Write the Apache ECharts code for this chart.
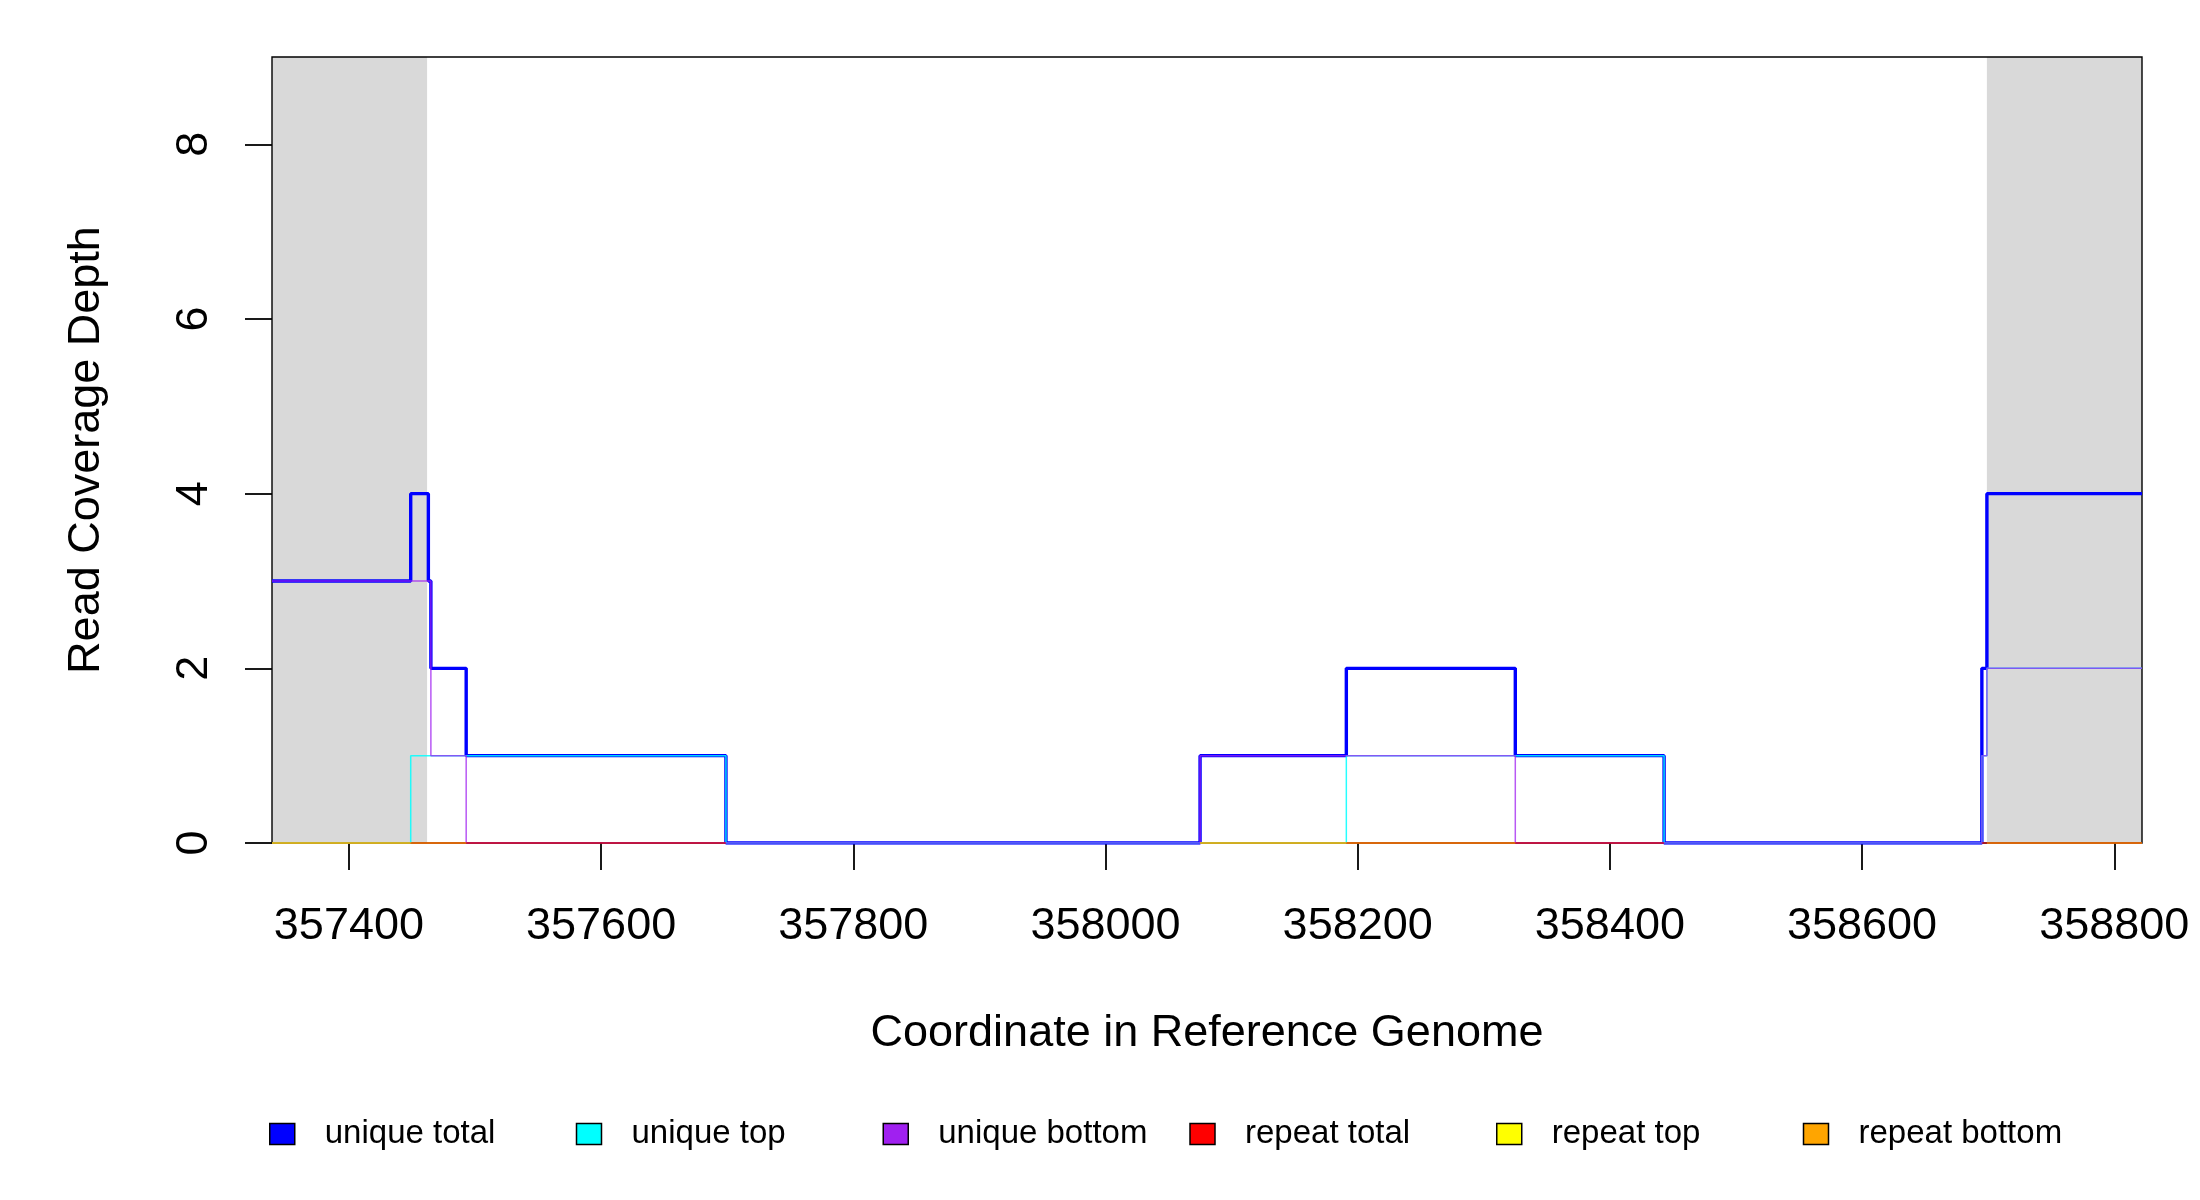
<!DOCTYPE html>
<html>
<head>
    <meta charset="utf-8">
    <title>Read Coverage Depth</title>
    <script src="https://cdn.jsdelivr.net/npm/echarts@6/dist/echarts.min.js"></script>
    <style>
        html, body { margin: 0; padding: 0; background: #ffffff; }
        #chart { width: 2200px; height: 1200px; }
    </style>
</head>
<body>
<div id="chart"></div>
<script>
    // axis range and tick labels
    var xMin = 357339, xMax = 358822;
    var xTicks = [357400, 357600, 357800, 358000, 358200, 358400, 358600, 358800];
    var yTicks = [0, 2, 4, 6, 8];

    // grey shaded flanks [from, to]
    var shadeSpans = [[357339, 357462], [358699, 358822]];

    // step data: [start coordinate, depth from there on]
    var uniqueTotal = [[357339, 3], [357449, 4], [357463, 3], [357465, 2], [357493, 1], [357699, 0],
        [358075, 1], [358191, 2], [358325, 1], [358443, 0], [358695, 2], [358699, 4], [358822, 4]];
    var uniqueTop = [[357339, 0], [357449, 1], [357699, 0], [358191, 1], [358443, 0],
        [358695, 1], [358699, 2], [358822, 2]];
    var uniqueBottom = [[357339, 3], [357465, 1], [357493, 0], [358075, 1], [358325, 0],
        [358695, 1], [358699, 2], [358822, 2]];

    // repeat coverage is zero everywhere; spans where each line is drawn
    var repeatTotalSpans = [[357339, 357699], [358075, 358443], [358695, 358822]];
    var repeatTopSpans = [[357339, 357449], [358075, 358191]];
    var repeatBottomSpans = [[357449, 357493], [358191, 358325], [358699, 358822]];

    var names = ['unique total', 'unique top', 'unique bottom', 'repeat total', 'repeat top', 'repeat bottom'];
    var colors = ['#0000FF', '#00FFFF', '#A020F0', '#FF0000', '#FFFF00', '#FFA500'];

    function zeroSpans(spans) {
        var out = [];
        spans.forEach(function (s) {
            out.push([s[0], 0], [s[1], 0], [s[1], null]);
        });
        return out;
    }

    var font = 'Liberation Sans, Arial, Helvetica, sans-serif';

    function stepSeries(i, data, width, opacity) {
        return {
            name: names[i],
            type: 'line',
            step: 'end',
            data: data,
            z: 3,
            showSymbol: false,
            symbol: 'none',
            itemStyle: { color: colors[i] },
            lineStyle: { color: colors[i], width: width, opacity: opacity }
        };
    }

    function zeroSeries(i, spans) {
        return {
            name: names[i],
            type: 'line',
            data: zeroSpans(spans),
            z: 3,
            showSymbol: false,
            symbol: 'none',
            connectNulls: false,
            itemStyle: { color: colors[i] },
            lineStyle: { color: colors[i], width: 2, opacity: 0.55 }
        };
    }

    var chart = echarts.init(document.getElementById('chart'));
    var option = {
        animation: false,
        backgroundColor: '#ffffff',
        textStyle: { fontFamily: font },
        grid: {
            show: true,
            z: 2,
            left: 272, right: 58, top: 57, bottom: 357,
            borderColor: '#000000',
            borderWidth: 1.4,
            backgroundColor: 'rgba(0,0,0,0)'
        },
        legend: {
            data: names,
            left: 264,
            top: 1109,
            icon: 'rect',
            itemWidth: 25,
            itemHeight: 21,
            itemGap: 0,
            itemStyle: { borderColor: '#000000', borderWidth: 1.5 },
            textStyle: {
                fontFamily: font,
                fontSize: 33,
                color: '#000000',
                lineHeight: 40,
                width: 251,
                padding: [0, 0, 0, 25]
            }
        },
        xAxis: {
            type: 'value',
            min: xMin,
            max: xMax,
            z: 2,
            name: 'Coordinate in Reference Genome',
            nameLocation: 'middle',
            nameGap: 168,
            nameTextStyle: { fontFamily: font, fontSize: 45, color: '#000000' },
            splitLine: { show: false },
            axisLine: { show: false },
            axisTick: {
                show: true,
                customValues: xTicks,
                length: 27,
                lineStyle: { color: '#000000', width: 1.8 }
            },
            axisLabel: {
                customValues: xTicks,
                margin: 61,
                fontFamily: font,
                fontSize: 45,
                color: '#000000',
                formatter: function (v) { return String(v); }
            }
        },
        yAxis: {
            type: 'value',
            min: 0,
            max: 9,
            z: 2,
            name: 'Read Coverage Depth',
            nameLocation: 'middle',
            nameRotate: 90,
            nameGap: 163,
            nameTextStyle: { fontFamily: font, fontSize: 45, color: '#000000' },
            splitLine: { show: false },
            axisLine: { show: false },
            axisTick: {
                show: true,
                customValues: yTicks,
                length: 27,
                lineStyle: { color: '#000000', width: 1.8 }
            },
            axisLabel: {
                customValues: yTicks,
                rotate: 90,
                margin: 55,
                fontFamily: font,
                fontSize: 45,
                color: '#000000'
            }
        },
        series: [
            {
                name: 'shade',
                type: 'line',
                data: [],
                z: 1,
                markArea: {
                    silent: true,
                    itemStyle: { color: '#D9D9D9' },
                    data: shadeSpans.map(function (s) {
                        return [{ xAxis: s[0] }, { xAxis: s[1] }];
                    })
                }
            },
            stepSeries(0, uniqueTotal, 3.4, 1),
            stepSeries(1, uniqueTop, 1.5, 0.85),
            stepSeries(2, uniqueBottom, 1.5, 0.75),
            zeroSeries(3, repeatTotalSpans),
            zeroSeries(4, repeatTopSpans),
            zeroSeries(5, repeatBottomSpans)
        ]
    };
    chart.setOption(option);

    window.onresize = function () {
        chart.resize();
    };
</script>
</body>
</html>
